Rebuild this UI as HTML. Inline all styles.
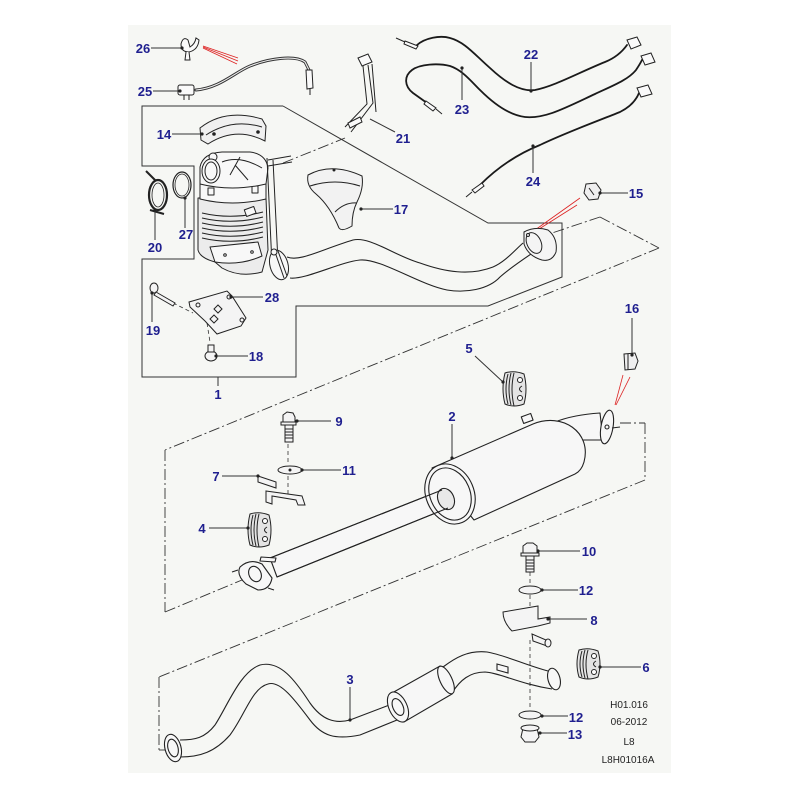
<!DOCTYPE html>
<html><head><meta charset="utf-8"><style>
html,body{margin:0;padding:0;background:#fff;}
svg{display:block}
.l{fill:#1f1f8f;font-family:"Liberation Sans",sans-serif;font-weight:bold;font-size:13px;}
.t{fill:#222;font-family:"Liberation Sans",sans-serif;font-size:10px;}
</style></head><body>
<svg width="800" height="800" viewBox="0 0 800 800" xmlns="http://www.w3.org/2000/svg">
<rect x="128" y="25" width="543" height="748" fill="#f6f7f4"/>

<!-- group boxes -->
<g fill="none" stroke="#333" stroke-width="1">
<polyline points="283,106 142,106 142,166 194,166 194,259 142,259 142,377 296,377 296,306 488,306 562,277 562,223 488,223 283,106"/>
<line x1="218" y1="377" x2="218" y2="386"/>
</g>
<g fill="none" stroke="#333" stroke-width="0.9" stroke-dasharray="11 3 2 3">
<line x1="600" y1="217" x2="659" y2="248"/>
<line x1="600" y1="217" x2="552" y2="233"/>
<line x1="659" y1="248" x2="165" y2="450"/>
<line x1="165" y1="450" x2="165" y2="612"/>
<line x1="165" y1="612" x2="242" y2="580"/>
<line x1="620" y1="423" x2="645" y2="423"/>
<line x1="645" y1="423" x2="645" y2="480"/>
<line x1="645" y1="480" x2="159" y2="677"/>
<line x1="159" y1="677" x2="159" y2="750"/>
<line x1="159" y1="750" x2="170" y2="750"/>
<line x1="283" y1="163" x2="345" y2="138"/>
</g>
<g fill="none" stroke="#333" stroke-width="0.8" stroke-dasharray="4 3">
<line x1="173" y1="303" x2="193" y2="313"/>
<line x1="207" y1="323" x2="210" y2="342"/>
<line x1="288" y1="444" x2="288" y2="464"/>
<line x1="288" y1="476" x2="288" y2="495"/>
<line x1="530" y1="572" x2="530" y2="585"/>
<line x1="530" y1="595" x2="530" y2="612"/>
<line x1="530" y1="640" x2="530" y2="710"/>
</g>
<!-- red lines -->
<g stroke="#d22" stroke-width="0.8" fill="none">
<line x1="203" y1="46" x2="238" y2="58"/>
<line x1="203" y1="47" x2="238" y2="61"/>
<line x1="203" y1="48" x2="237" y2="64"/>
<line x1="580" y1="198" x2="528" y2="235"/>
<line x1="577" y1="205" x2="528" y2="236"/>
<line x1="623" y1="375" x2="615" y2="405"/>
<line x1="630" y1="377" x2="616" y2="405"/>
</g>

<!-- cables -->
<g fill="none" stroke-linecap="round">
<path d="M417,45 C425,38 440,35 450,38 C465,42 475,55 490,68 C505,82 520,92 535,90 C555,86 580,72 605,62 C615,58 622,52 627,45" stroke="#1a1a1a" stroke-width="1.8"/>
<path d="M427,103 L413,93 C404,86 404,76 412,70 C420,64 438,63 450,66 C462,70 470,80 480,90 C492,102 508,115 525,117 C545,119 565,108 595,94 C612,86 628,80 636,70 C640,64 641,62 642,60" stroke="#1a1a1a" stroke-width="1.8"/>
<path d="M480,185 C495,170 515,155 540,145 C565,133 595,122 620,112 C632,106 637,98 639,93" stroke="#1a1a1a" stroke-width="1.8"/>
<path d="M196,90 C220,88 235,72 250,66 C270,58 295,55 305,62 L309,70" stroke="#333" stroke-width="3"/>
<path d="M196,90 C220,88 235,72 250,66 C270,58 295,55 305,62 L309,70" stroke="#eee" stroke-width="1.1"/>
</g>
<g fill="#fafafa" stroke="#222" stroke-width="1">
<path d="M405,41 L418,46 L416,49 L404,44 Z"/><line x1="396" y1="38" x2="405" y2="42"/>
<path d="M426,101 L436,108 L433,111 L424,104 Z"/><line x1="436" y1="109" x2="442" y2="114"/>
<path d="M472,190 L482,183 L484,186 L475,193 Z"/><line x1="472" y1="192" x2="466" y2="197"/>
<path d="M627,40 L637,37 L641,45 L631,49 Z"/>
<path d="M641,56 L651,53 L655,62 L645,65 Z"/>
<path d="M637,88 L648,85 L652,94 L641,97 Z"/>
<!-- sensor 25 -->
<rect x="178" y="85" width="16" height="10" rx="2"/>
<line x1="184" y1="95" x2="184" y2="100"/><line x1="189" y1="95" x2="189" y2="100"/>
<path d="M306,70 L312,70 L313,88 L307,89 Z"/>
<line x1="310" y1="89" x2="310" y2="95"/>
<!-- clip 26 -->
<path d="M181,44 Q183,36 188,40 L190,47 Q195,44 196,38 L199,40 Q198,50 189,52 Q181,52 181,44 Z"/>
<path d="M186,52 L185,60 L190,60 L189,52"/>
<!-- sensor 21 -->
<path d="M358,58 L368,54 L372,62 L362,66 Z"/>
<path d="M363,66 L367,104 L345,127" fill="none"/>
<path d="M368,65 L373,103 L351,132" fill="none"/>
<path d="M372,64 L376,112" fill="none"/>
<path d="M348,123 L360,117 L362,122 L350,128 Z"/>
<!-- heat shield 14 -->
<path d="M200,128 Q225,108 262,119 L266,126 L265,141 Q236,126 208,144 L201,140 Z" fill="#f0f0f0"/>
<path d="M206,135 Q232,118 262,127" fill="none"/>
<circle cx="214" cy="134" r="1.3" fill="#222"/><circle cx="258" cy="132" r="1.3" fill="#222"/>
</g>

<!-- catalyst assembly -->
<g fill="#f8f8f8" stroke="#222" stroke-width="1" stroke-linejoin="round">
<path d="M198,198 L198,250 Q200,258 215,262 L222,268 Q240,278 262,272 L268,250 L266,198 Z" fill="#ececec"/>
<path d="M202,213 Q232,220 263,212 M202,218 Q232,225 263,217 M202,223 Q232,230 263,222 M202,228 Q232,235 263,227 M202,233 Q232,240 263,232 M202,238 Q232,245 263,237" fill="none"/>
<path d="M210,247 L258,242 L262,256 Q240,266 215,262 Z"/>
<circle cx="225" cy="255" r="1.3"/><circle cx="252" cy="252" r="1.3"/>
<path d="M200,184 L200,199 Q232,207 266,199 L266,184 Z"/>
<rect x="208" y="188" width="6" height="7" fill="none"/><rect x="252" y="186" width="6" height="7" fill="none"/>
<path d="M200,184 L200,167 Q203,153 222,152 L250,152 Q266,154 268,168 L266,184 Q232,192 200,184 Z"/>
<path d="M222,162 Q240,155 262,168 M235,165 L248,180 M240,157 L230,175" fill="none"/>
<circle cx="213" cy="157" r="4"/>
<ellipse cx="211" cy="171" rx="9" ry="12"/>
<ellipse cx="211" cy="171" rx="6" ry="9"/>
<path d="M267,158 L272,265 M273,160 L278,262" fill="none"/>
<path d="M268,160 L291,156 M268,166 L292,162" fill="none"/>
<rect x="245" y="208" width="10" height="7" transform="rotate(-20 250 211)"/>
<ellipse cx="279" cy="265" rx="9" ry="15" transform="rotate(-15 279 265)"/>
<path d="M275,252 L284,278 M278,251 L287,276" fill="none"/>
<circle cx="274" cy="252" r="3"/>
</g>
<!-- pipe 1 -->
<g fill="none" stroke="#222" stroke-width="1.1">
<path d="M287,257 C300,262 320,250 353,240 C370,236 395,256 420,263 C445,272 470,276 493,267 C505,262 515,250 523,243"/>
<path d="M290,278 C305,280 340,262 360,260 C380,258 420,285 447,290 C465,293 488,290 500,277 C510,268 525,258 537,250"/>
</g>
<g fill="#f4f4f4" stroke="#222" stroke-width="1">
<path d="M524,232 Q535,226 548,230 Q558,238 556,252 Q552,262 542,260 Q528,256 524,244 Z"/>
<ellipse cx="534" cy="243" rx="7" ry="11" transform="rotate(-25 534 243)"/>
<circle cx="528" cy="235" r="1.5"/>
</g>
<!-- heat shield 17 -->
<g fill="#f2f2f2" stroke="#222" stroke-width="1">
<path d="M308,175 Q332,162 362,176 Q364,188 357,202 Q352,212 352,226 Q342,232 339,228 Q330,206 316,194 Q306,186 308,175 Z"/>
<path d="M310,186 Q335,178 360,186" fill="none"/>
<path d="M335,212 Q345,202 357,203" fill="none"/>
<circle cx="334" cy="170" r="1" fill="#222"/>
</g>
<!-- clamp 20, gasket 27 -->
<g fill="none" stroke="#222">
<ellipse cx="158" cy="195" rx="9" ry="15" stroke-width="2.2"/>
<ellipse cx="158" cy="195" rx="6" ry="12" stroke-width="0.8"/>
<path d="M146,171 L155,180" stroke-width="2"/>
<path d="M150,210 L164,214" stroke-width="2"/>
<ellipse cx="182" cy="185" rx="9" ry="13" stroke-width="1.2"/>
<ellipse cx="182" cy="185" rx="7" ry="11" stroke-width="0.8"/>
</g>
<!-- plate 28, bolt 19, nut 18 -->
<g fill="#f4f4f4" stroke="#222" stroke-width="1">
<path d="M189,302 L227,291 L232,296 L246,318 L241,326 L217,334 L205,321 L190,307 Z"/>
<circle cx="229" cy="297" r="2"/><circle cx="242" cy="320" r="2"/><circle cx="198" cy="305" r="2"/>
<path d="M218,305 l4,4 -4,4 -4,-4 Z M214,315 l4,4 -4,4 -4,-4 Z" fill="none"/>
<ellipse cx="154" cy="288" rx="4" ry="5"/>
<path d="M156,292 L175,303 L173,306 L154,295 Z"/>
<ellipse cx="211" cy="356" rx="6" ry="5"/>
<rect x="208" y="345" width="6" height="7"/>
</g>
<!-- nut 15, 16 -->
<g fill="#efefef" stroke="#222" stroke-width="1">
<path d="M586,184 L596,183 L601,190 L598,199 L589,200 L584,193 Z"/>
<path d="M589,188 L594,195" fill="none"/>
<path d="M624,354 L635,353 L638,361 L635,369 L625,370 Z"/>
<line x1="628" y1="354" x2="628" y2="370"/>
</g>
<!-- isolators -->
<g fill="#e4e4e4" stroke="#222" stroke-width="1">
<g transform="translate(501,371)">
<path d="M4,2 Q13,-1 23,3 Q27,18 23,33 Q13,37 4,33 Q0,18 4,2Z"/>
<path d="M7,3 Q3,18 7,33 M10,2 Q6,18 10,34 M13,2 Q9,18 13,35" fill="none"/>
<circle cx="19" cy="9" r="2.5" fill="#fff"/><path d="M21,15 q-5,3 0,6" fill="none"/><circle cx="19" cy="27" r="2.5" fill="#fff"/>
</g>
<g transform="translate(246,512)">
<path d="M4,2 Q13,-1 23,3 Q27,18 23,33 Q13,37 4,33 Q0,18 4,2Z"/>
<path d="M7,3 Q3,18 7,33 M10,2 Q6,18 10,34 M13,2 Q9,18 13,35" fill="none"/>
<circle cx="19" cy="9" r="2.5" fill="#fff"/><path d="M21,15 q-5,3 0,6" fill="none"/><circle cx="19" cy="27" r="2.5" fill="#fff"/>
</g>
<g transform="translate(575,648)">
<path d="M4,2 Q13,-1 23,3 Q27,16 23,29 Q13,33 4,29 Q0,16 4,2Z"/>
<path d="M7,3 Q3,16 7,29 M10,2 Q6,16 10,30 M13,2 Q9,16 13,31" fill="none"/>
<circle cx="19" cy="8" r="2.5" fill="#fff"/><path d="M21,13 q-5,3 0,6" fill="none"/><circle cx="19" cy="24" r="2.5" fill="#fff"/>
</g>
</g>
<!-- bolts/washers/brackets -->
<g fill="#f4f4f4" stroke="#222" stroke-width="1">
<path d="M283,415 L287,412 L293,413 L295,417 L295,422 L283,422 Z"/>
<rect x="281" y="422" width="15" height="3"/>
<rect x="285" y="425" width="8" height="17"/>
<path d="M285,429 h8 M285,432 h8 M285,435 h8 M285,438 h8" fill="none"/>
<ellipse cx="290" cy="470" rx="12" ry="4"/><circle cx="290" cy="470" r="1" fill="#222"/>
<path d="M258,476 L276,482 L276,488 L258,482 Z"/>
<path d="M266,491 L302,496 L305,505 L298,505 L296,500 L272,496 L272,504 L266,502 Z"/>
<path d="M523,546 L527,543 L533,543 L537,546 L537,553 L523,553 Z"/>
<rect x="521" y="553" width="18" height="3"/>
<rect x="526" y="556" width="8" height="16"/>
<path d="M526,560 h8 M526,563 h8 M526,566 h8 M526,569 h8" fill="none"/>
<ellipse cx="530" cy="590" rx="11" ry="4"/>
<path d="M503,612 L538,606 L538,619 L550,617 L550,623 L538,626 L512,631 Q503,622 503,612 Z"/>
<path d="M532,634 L546,640 L547,646 L533,641 Z"/>
<ellipse cx="548" cy="643" rx="3" ry="4"/>
<ellipse cx="530" cy="715" rx="11" ry="4"/>
<path d="M523,728 L537,728 L539,737 L535,742 L525,742 L521,737 Z"/>
<ellipse cx="530" cy="728" rx="9" ry="3"/>
</g>
<!-- muffler 2 -->
<g fill="#f7f7f7" stroke="#222" stroke-width="1.1" stroke-linejoin="round">
<path d="M555,422 C570,416 585,414 600,413 L603,440 C592,440 585,440 577,440 Z"/>
<ellipse cx="607" cy="427" rx="6" ry="17" transform="rotate(10 607 427)"/>
<circle cx="607" cy="427" r="2"/>
<path d="M612,428 L620,427" fill="none"/>
<path d="M432,468 L533,424 C562,412 592,432 584,462 C582,469 579,472 575,474 L474,520 Z"/>
<rect x="522" y="415" width="10" height="7" transform="rotate(-20 527 418)"/>
<path d="M442,490 L270,558 L277,577 L448,508 Z" fill="#f7f7f7"/>
<ellipse cx="450" cy="494" rx="24" ry="31" transform="rotate(-23 450 494)"/>
<ellipse cx="450" cy="494" rx="20" ry="27" transform="rotate(-23 450 494)" fill="none"/>
<ellipse cx="446" cy="499" rx="8" ry="11" transform="rotate(-23 446 499)" fill="#e8e8e8"/>
<path d="M442,490 L270,558 M448,508 L277,577" fill="none"/>
<path d="M240,567 Q250,558 262,564 L272,578 Q270,590 258,590 L246,584 Q236,575 240,567 Z"/>
<ellipse cx="255" cy="574" rx="6" ry="8" transform="rotate(-25 255 574)"/>
<path d="M238,570 L232,572 M268,588 L274,590" fill="none"/>
<path d="M261,557 L276,558 L275,562 L260,561 Z"/>
</g>
<!-- muffler 3 -->
<g fill="none" stroke="#222" stroke-width="1.1">
<path d="M180,740 C195,740 205,738 215,725 C228,705 240,672 260,665 C280,660 295,680 310,703 C322,720 335,724 350,720 L392,704"/>
<path d="M180,757 C200,757 215,752 230,735 C245,715 252,688 268,684 C280,680 295,700 310,720 C322,736 335,740 360,735 L402,718"/>
<path d="M443,667 C455,658 468,650 487,652 C505,655 525,665 548,671"/>
<path d="M452,693 C460,680 470,672 485,672 C500,673 520,684 552,689"/>
</g>
<g fill="#f7f7f7" stroke="#222" stroke-width="1.1">
<path d="M392,693 L440,666 L452,694 L404,722 Z"/>
<ellipse cx="446" cy="680" rx="6" ry="15" transform="rotate(-25 446 680)"/>
<ellipse cx="398" cy="707" rx="9" ry="16" transform="rotate(-25 398 707)"/>
<ellipse cx="398" cy="707" rx="5" ry="9" transform="rotate(-25 398 707)"/>
<ellipse cx="554" cy="679" rx="6" ry="11" transform="rotate(-15 554 679)"/>
<path d="M497,664 L508,667 L508,673 L497,670 Z"/>
<ellipse cx="173" cy="748" rx="8" ry="14" transform="rotate(-15 173 748)"/>
<ellipse cx="173" cy="748" rx="5" ry="9" transform="rotate(-15 173 748)"/>
</g>

<!-- leaders -->
<g stroke="#333" stroke-width="1" fill="none">
<line x1="151" y1="48" x2="182" y2="48"/>
<line x1="153" y1="91" x2="180" y2="91"/>
<line x1="172" y1="134" x2="202" y2="134"/>
<line x1="370" y1="119" x2="395" y2="132"/>
<line x1="531" y1="62" x2="531" y2="91"/>
<line x1="462" y1="100" x2="462" y2="68"/>
<line x1="533" y1="173" x2="533" y2="146"/>
<line x1="600" y1="193" x2="628" y2="193"/>
<line x1="361" y1="209" x2="393" y2="209"/>
<line x1="155" y1="210" x2="155" y2="240"/>
<line x1="185" y1="198" x2="185" y2="228"/>
<line x1="231" y1="297" x2="263" y2="297"/>
<line x1="152" y1="293" x2="152" y2="322"/>
<line x1="216" y1="356" x2="248" y2="356"/>
<line x1="475" y1="356" x2="503" y2="382"/>
<line x1="632" y1="318" x2="632" y2="355"/>
<line x1="452" y1="424" x2="452" y2="458"/>
<line x1="297" y1="421" x2="331" y2="421"/>
<line x1="302" y1="470" x2="341" y2="470"/>
<line x1="222" y1="476" x2="258" y2="476"/>
<line x1="209" y1="528" x2="248" y2="528"/>
<line x1="538" y1="551" x2="580" y2="551"/>
<line x1="542" y1="590" x2="578" y2="590"/>
<line x1="548" y1="619" x2="587" y2="619"/>
<line x1="600" y1="667" x2="641" y2="667"/>
<line x1="350" y1="687" x2="350" y2="720"/>
<line x1="542" y1="716" x2="568" y2="716"/>
<line x1="540" y1="733" x2="567" y2="733"/>
</g>
<g fill="#222">
<circle cx="182" cy="48" r="1.6"/><circle cx="180" cy="91" r="1.6"/><circle cx="202" cy="134" r="1.6"/>
<circle cx="531" cy="91" r="1.6"/><circle cx="462" cy="68" r="1.6"/><circle cx="533" cy="146" r="1.6"/>
<circle cx="600" cy="193" r="1.6"/><circle cx="361" cy="209" r="1.6"/><circle cx="155" cy="210" r="1.6"/>
<circle cx="185" cy="198" r="1.6"/><circle cx="231" cy="297" r="1.6"/><circle cx="152" cy="293" r="1.6"/>
<circle cx="216" cy="356" r="1.6"/><circle cx="503" cy="382" r="1.6"/><circle cx="632" cy="355" r="1.6"/>
<circle cx="452" cy="458" r="1.6"/><circle cx="297" cy="421" r="1.6"/><circle cx="302" cy="470" r="1.6"/>
<circle cx="258" cy="476" r="1.6"/><circle cx="248" cy="528" r="1.6"/><circle cx="538" cy="551" r="1.6"/>
<circle cx="542" cy="590" r="1.6"/><circle cx="548" cy="619" r="1.6"/><circle cx="600" cy="667" r="1.6"/>
<circle cx="350" cy="720" r="1.6"/><circle cx="542" cy="716" r="1.6"/><circle cx="540" cy="733" r="1.6"/>
</g>

<!-- labels -->
<g class="l" text-anchor="middle">
<text x="143" y="53">26</text>
<text x="145" y="96">25</text>
<text x="164" y="139">14</text>
<text x="403" y="143">21</text>
<text x="531" y="59">22</text>
<text x="462" y="114">23</text>
<text x="533" y="186">24</text>
<text x="636" y="198">15</text>
<text x="401" y="214">17</text>
<text x="155" y="252">20</text>
<text x="186" y="239">27</text>
<text x="272" y="302">28</text>
<text x="153" y="335">19</text>
<text x="256" y="361">18</text>
<text x="218" y="399">1</text>
<text x="469" y="353">5</text>
<text x="632" y="313">16</text>
<text x="452" y="421">2</text>
<text x="339" y="426">9</text>
<text x="349" y="475">11</text>
<text x="216" y="481">7</text>
<text x="202" y="533">4</text>
<text x="589" y="556">10</text>
<text x="586" y="595">12</text>
<text x="594" y="625">8</text>
<text x="646" y="672">6</text>
<text x="350" y="684">3</text>
<text x="576" y="722">12</text>
<text x="575" y="739">13</text>
</g>
<g class="t" text-anchor="middle">
<text x="629" y="708">H01.016</text>
<text x="629" y="725">06-2012</text>
<text x="629" y="745">L8</text>
<text x="628" y="763">L8H01016A</text>
</g>
</svg>
</body></html>
